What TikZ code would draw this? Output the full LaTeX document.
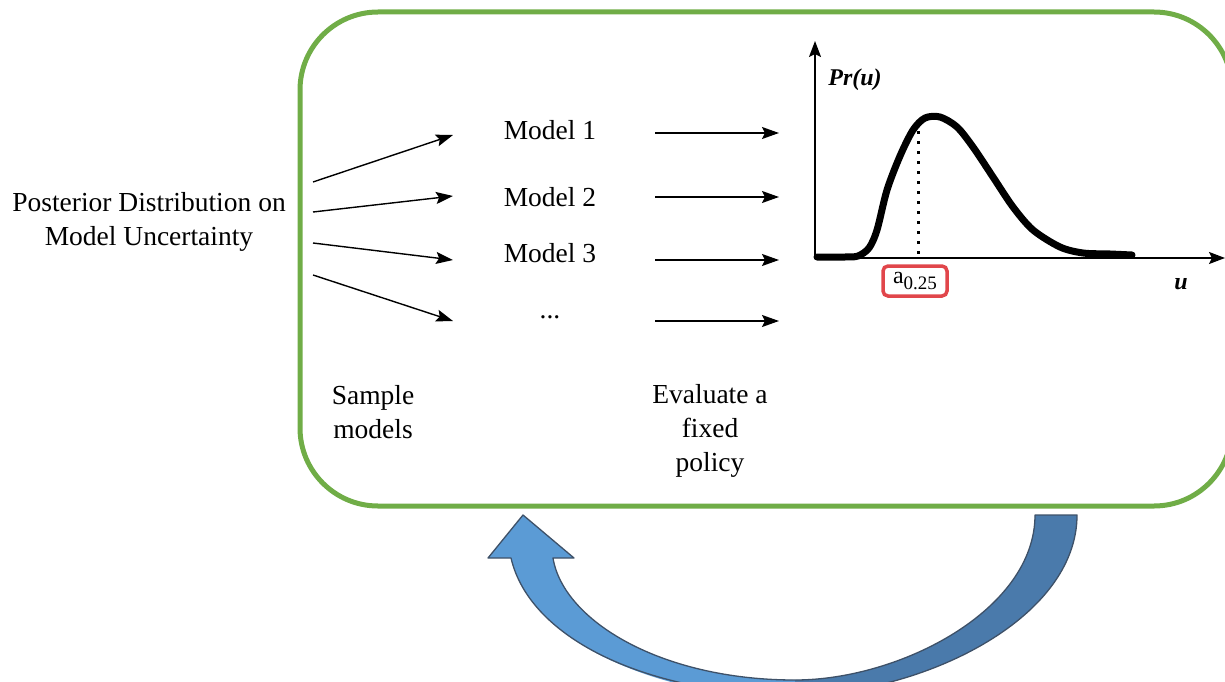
\documentclass[tikz,border=0pt]{standalone}
\usepackage{fontspec}
\setmainfont{Liberation Serif}
\usetikzlibrary{arrows.meta}
\definecolor{boxgreen}{HTML}{70AD47}
\definecolor{lightblue}{HTML}{5B9BD5}
\definecolor{darkblue}{HTML}{4A7AAB}
\definecolor{blueedge}{HTML}{3E5168}
\definecolor{markred}{HTML}{E1464B}
\tikzset{
  conn/.style={line width=1.4pt, -{Stealth[length=17pt,width=12pt,inset=3pt]}},
  axis/.style={line width=1.8pt, -{Stealth[length=16pt,width=12pt,inset=3pt]}},
  lbl/.style={font=\fontsize{27.5}{34}\selectfont, align=center, inner sep=0pt},
  axlbl/.style={font=\fontsize{24}{28}\selectfont\bfseries\itshape, inner sep=0pt},
}
\begin{document}
\begin{tikzpicture}[x=1pt,y=-1pt]
\useasboundingbox (0,0) rectangle (1225,682);
% green frame
\draw[boxgreen, line width=5pt, rounded corners=78pt] (300,12) rectangle (1232,506);

% left text
\node[lbl] (post) at (149,222) {Posterior Distribution on\\Model Uncertainty};

% sample arrows
\coordinate (s1) at (313,182);
\coordinate (s2) at (313,212);
\coordinate (s3) at (313,243);
\coordinate (s4) at (313,275);
\coordinate (e1) at (453,135);
\coordinate (e2) at (453,196);
\coordinate (e3) at (453,260);
\coordinate (e4) at (453,321);
\draw[conn] (s1) -- (e1);
\draw[conn] (s2) -- (e2);
\draw[conn] (s3) -- (e3);
\draw[conn] (s4) -- (e4);

% model labels
\node[lbl] (m1) at (550,130) {Model 1};
\node[lbl] (m2) at (550,197) {Model 2};
\node[lbl] (m3) at (550,253) {Model 3};
\node[lbl] (m4) at (550,317) {...};

% evaluation arrows
\coordinate (r1a) at (655,133); \coordinate (r1b) at (779,133);
\coordinate (r2a) at (655,197); \coordinate (r2b) at (779,197);
\coordinate (r3a) at (655,260); \coordinate (r3b) at (779,260);
\coordinate (r4a) at (655,321); \coordinate (r4b) at (779,321);
\draw[conn] (r1a) -- (r1b);
\draw[conn] (r2a) -- (r2b);
\draw[conn] (r3a) -- (r3b);
\draw[conn] (r4a) -- (r4b);

% bottom labels
\node[lbl] (samp) at (373,412) {Sample\\models};
\node[lbl] (eval) at (710,431) {Evaluate a\\fixed\\policy};

% axes
\coordinate (orig) at (815,258);
\coordinate (ytop) at (815,41);
\coordinate (xend) at (1225,258);
\draw[axis] (orig) -- (ytop);
\draw[axis] (orig) -- (xend);
\node[axlbl] (pr) at (855,80) {Pr(u)};
\node[axlbl] (ul) at (1181,284) {u};

% density curve
\draw[line width=7pt, line cap=round, line join=round] plot[smooth, tension=0.5] coordinates {
 (817,257) (845,257) (858,256) (869,248) (877,230) (887,190) (900,156) (913,130) (925,118) (940,117) (957,127) (973,147) (993,177) (1013,207) (1033,230) (1060,247) (1083,253) (1110,254) (1132,255)};

% quantile dotted line
\coordinate (qtop) at (918,131);
\coordinate (qbot) at (918,257);
\draw[line width=3pt, dash pattern=on 3pt off 7pt] (qtop) -- (qbot);

% quantile marker
\node[draw=markred, line width=3.5pt, rounded corners=5pt, minimum width=64pt, minimum height=30pt, inner sep=0pt, font=\fontsize{24}{24}\selectfont] (q) at (915,281) {a\raisebox{-0.28em}{\fontsize{19}{19}\selectfont 0.25}};

% curved feedback arrow
\fill[lightblue] (523,515) -- (574,558) -- (553,558)
  .. controls (563,620) and (660,680) .. (795,680)
  -- (795,700)
  .. controls (650,695) and (530,640) .. (511,558)
  -- (488,558) -- cycle;
\fill[darkblue] (795,680)
  .. controls (900,680) and (1035,610) .. (1035,515)
  -- (1077,515)
  .. controls (1077,620) and (920,695) .. (795,695)
  -- cycle;
\draw[blueedge, line width=1.3pt, line join=round]
  (523,515) -- (574,558) -- (553,558)
  .. controls (563,620) and (660,680) .. (795,680)
  .. controls (900,680) and (1035,610) .. (1035,515)
  -- (1077,515)
  .. controls (1077,620) and (920,695) .. (795,695)
  .. controls (650,695) and (530,640) .. (511,558)
  -- (488,558) -- cycle;
\end{tikzpicture}
\end{document}
